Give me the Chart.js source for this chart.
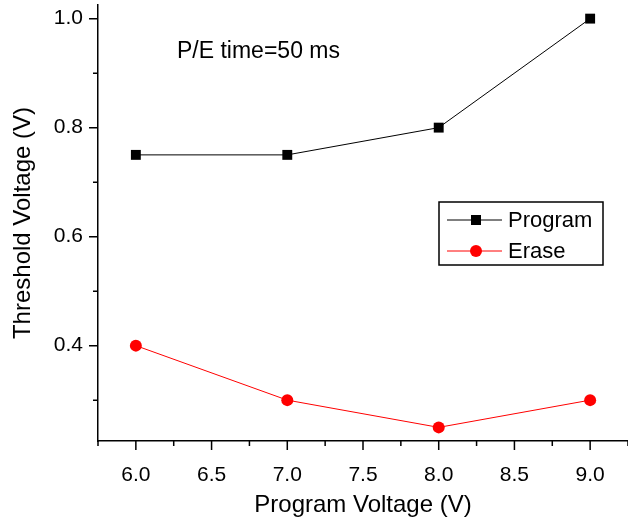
<!DOCTYPE html>
<html>
<head>
<meta charset="utf-8">
<script src="https://cdn.jsdelivr.net/npm/chart.js@4"></script>
<style>
  html, body { margin: 0; padding: 0; background: #fff; }
  #wrap { width: 628px; height: 523px; }
</style>
</head>
<body>
<div id="wrap"><canvas id="myChart" width="628" height="523"></canvas></div>
<script>
const voltages = [6.0, 7.0, 8.0, 9.0]
const programVals = [0.75, 0.75, 0.8, 1.0]
const eraseVals = [0.4, 0.3, 0.25, 0.3]
const xTicks = [6.0, 6.5, 7.0, 7.5, 8.0, 8.5, 9.0]
const yTicks = [0.4, 0.6, 0.8, 1.0]
const xMinor = [5.75, 6.25, 6.75, 7.25, 7.75, 8.25, 8.75, 9.25]
const yMinor = [0.3, 0.5, 0.7, 0.9]

const FONT = 'Liberation Sans, Arial, Helvetica, sans-serif'

const ctx = document.getElementById('myChart').getContext('2d')

// ticks drawn by hand: outward, major longer than minor
const tickPlugin = {
    id: 'ticks',
    afterDraw(chart) {
        const c = chart.ctx
        const x = chart.scales.x, y = chart.scales.y
        const area = chart.chartArea
        c.save()
        c.strokeStyle = '#000'
        c.lineWidth = 1.5
        c.beginPath()
        xTicks.forEach(v => { const p = x.getPixelForValue(v); c.moveTo(p, area.bottom); c.lineTo(p, area.bottom + 9) })
        xMinor.forEach(v => { const p = x.getPixelForValue(v); c.moveTo(p, area.bottom); c.lineTo(p, area.bottom + 5) })
        yTicks.forEach(v => { const p = y.getPixelForValue(v); c.moveTo(area.left, p); c.lineTo(area.left - 9, p) })
        yMinor.forEach(v => { const p = y.getPixelForValue(v); c.moveTo(area.left, p); c.lineTo(area.left - 5, p) })
        c.stroke()

        // annotation
        c.fillStyle = '#000'
        c.font = '23px ' + FONT
        c.textBaseline = 'alphabetic'
        c.textAlign = 'left'
        c.fillText('P/E time=50 ms', 177, 58)

        // legend box
        c.lineWidth = 1.5
        c.strokeRect(439, 202, 164, 63)
        c.font = '22px ' + FONT
        c.textBaseline = 'middle'
        const rows = [
            { label: 'Program', color: '#000', shape: 'rect', y: 220 },
            { label: 'Erase', color: '#ff0000', shape: 'circle', y: 251 },
        ]
        rows.forEach(r => {
            c.strokeStyle = r.color
            c.fillStyle = r.color
            c.lineWidth = 1
            c.beginPath()
            c.moveTo(447, r.y); c.lineTo(502, r.y)
            c.stroke()
            if (r.shape === 'rect') {
                c.fillRect(471, r.y - 5, 10, 10)
            } else {
                c.beginPath(); c.arc(476, r.y, 6, 0, Math.PI * 2); c.fill()
            }
            c.fillStyle = '#000'
            c.fillText(r.label, 508, r.y + 1)
        })
        c.restore()
    }
}

const data = {
    datasets: [
        {
            label: 'Program',
            data: voltages.map((v, i) => ({ x: v, y: programVals[i] })),
            borderColor: '#000',
            backgroundColor: '#000',
            borderWidth: 1,
            pointStyle: 'rect',
            pointRadius: 7,
            pointBorderWidth: 0,
        },
        {
            label: 'Erase',
            data: voltages.map((v, i) => ({ x: v, y: eraseVals[i] })),
            borderColor: '#ff0000',
            backgroundColor: '#ff0000',
            borderWidth: 1,
            pointStyle: 'circle',
            pointRadius: 6,
            pointBorderWidth: 0,
        },
    ],
}

const config = {
    type: 'line',
    data: data,
    plugins: [tickPlugin],
    options: {
        responsive: false,
        animation: false,
        layout: { autoPadding: false, padding: { top: 5, right: 0, left: 0, bottom: 0 } },
        plugins: { legend: { display: false }, tooltip: { enabled: false } },
        scales: {
            x: {
                type: 'linear',
                min: 5.75,
                max: 9.25,
                afterBuildTicks: (s) => { s.ticks = xTicks.map(v => ({ value: v })) },
                afterFit: (s) => { s.height = 82; s.paddingLeft = 0; s.paddingRight = 0 },
                grid: { display: false },
                border: { display: true, color: '#000', width: 1.5 },
                ticks: {
                    color: '#000',
                    font: { family: FONT, size: 21 },
                    padding: 14,
                    maxRotation: 0,
                    callback: (v) => v.toFixed(1),
                },
                title: {
                    display: true,
                    text: 'Program Voltage (V)',
                    color: '#000',
                    font: { family: FONT, size: 24 },
                    padding: { top: 4, bottom: 3 },
                },
            },
            y: {
                min: 0.225,
                max: 1.025,
                afterBuildTicks: (s) => { s.ticks = yTicks.map(v => ({ value: v })) },
                afterFit: (s) => { s.width = 98; s.paddingTop = 0; s.paddingBottom = 0 },
                grid: { display: false },
                border: { display: true, color: '#000', width: 1.5 },
                ticks: {
                    color: '#000',
                    font: { family: FONT, size: 21 },
                    padding: 7,
                    callback: (v) => v.toFixed(1),
                },
                title: {
                    display: true,
                    text: 'Threshold Voltage (V)',
                    color: '#000',
                    font: { family: FONT, size: 24 },
                    padding: { top: 9, bottom: 0 },
                },
            },
        },
    },
}

const myChart = new Chart(ctx, config)
</script>
</body>
</html>
